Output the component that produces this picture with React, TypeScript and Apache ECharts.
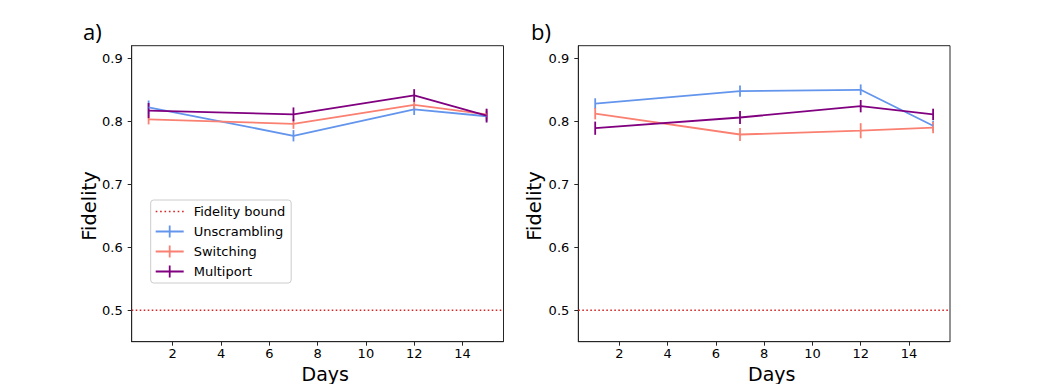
import React, { useEffect, useRef } from "react";
import * as echarts from "echarts";

const days = [1, 7, 12, 15];
const xTicks = [2, 4, 6, 8, 10, 12, 14];
const yTicks = [0.5, 0.6, 0.7, 0.8, 0.9];
const fidelityBound = 0.5;

const unscramblingA = [0.822, 0.777, 0.819, 0.808];
const unscramblingAErr = [0.011, 0.009, 0.009, 0.008];
const switchingA = [0.803, 0.796, 0.826, 0.811];
const switchingAErr = [0.008, 0.008, 0.007, 0.008];
const multiportA = [0.817, 0.811, 0.841, 0.809];
const multiportAErr = [0.012, 0.011, 0.010, 0.011];

const unscramblingB = [0.828, 0.848, 0.850, 0.793];
const unscramblingBErr = [0.0085, 0.009, 0.0085, 0.008];
const switchingB = [0.812, 0.779, 0.785, 0.790];
const switchingBErr = [0.009, 0.0105, 0.012, 0.009];
const multiportB = [0.789, 0.806, 0.824, 0.811];
const multiportBErr = [0.0105, 0.0105, 0.0098, 0.009];

const BLUE = "#6495ED";
const SALMON = "#FA8072";
const PURPLE = "#800080";
const RED = "#d62728";
const SPINE = "#262626";
const FONT = "DejaVu Sans";
const LW = 1.8;

const X_MIN = 0.3;
const X_MAX = 15.7;

const crossIcon = "path://M0,5.1h28v1.8h-28z M13.1,0h1.8v12h-1.8z";
const dotIcon =
  "path://M0,0h1.5v1.5h-1.5z M4,0h1.5v1.5h-1.5z M8,0h1.5v1.5h-1.5z M12,0h1.5v1.5h-1.5z M16,0h1.5v1.5h-1.5z M20,0h1.5v1.5h-1.5z M24,0h1.5v1.5h-1.5z";

function lineSeries(name: string, values: number[], color: string, idx: number) {
  return {
    type: "line",
    name,
    xAxisIndex: idx,
    yAxisIndex: idx,
    data: days.map((d, i) => [d, values[i]]),
    symbol: "none",
    showSymbol: false,
    color,
    itemStyle: { color, borderWidth: 0 },
    lineStyle: { color, width: LW },
    z: 3,
  };
}

function errSeries(name: string, values: number[], errs: number[], color: string, idx: number) {
  return {
    type: "custom",
    name: name + " error",
    xAxisIndex: idx,
    yAxisIndex: idx,
    data: days.map((d, i) => [d, values[i] - errs[i], values[i] + errs[i]]),
    encode: { x: 0, y: [1, 2] },
    z: 3,
    renderItem: (params: any, api: any) => {
      const p1 = api.coord([api.value(0), api.value(1)]);
      const p2 = api.coord([api.value(0), api.value(2)]);
      return {
        type: "line",
        shape: { x1: p1[0], y1: p1[1], x2: p2[0], y2: p2[1] },
        style: { stroke: color, lineWidth: LW },
      };
    },
  };
}

function boundSeries(idx: number) {
  return {
    type: "line",
    name: "Fidelity bound",
    xAxisIndex: idx,
    yAxisIndex: idx,
    data: [
      [X_MIN, fidelityBound],
      [X_MAX, fidelityBound],
    ],
    symbol: "none",
    showSymbol: false,
    color: RED,
    itemStyle: { color: RED, borderWidth: 0 },
    lineStyle: { color: RED, width: 1.6, type: [1.6, 2.4] },
    z: 2,
  };
}

function xAxis(idx: number) {
  return {
    type: "value",
    gridIndex: idx,
    min: X_MIN,
    max: X_MAX,
    axisLine: { show: true, onZero: false, lineStyle: { color: SPINE, width: 1 } },
    axisTick: { show: true, length: 4, customValues: xTicks, lineStyle: { color: SPINE, width: 1 } },
    axisLabel: {
      customValues: xTicks,
      margin: 5.5,
      fontFamily: FONT,
      fontSize: 13,
      lineHeight: 13,
      color: "#000",
      formatter: (v: number) => String(v),
    },
    splitLine: { show: false },
  };
}

function yAxis(idx: number) {
  return {
    type: "value",
    gridIndex: idx,
    min: 0.45,
    max: 0.92,
    axisLine: { show: true, lineStyle: { color: SPINE, width: 1 } },
    axisTick: { show: true, length: 4, customValues: yTicks, lineStyle: { color: SPINE, width: 1 } },
    axisLabel: {
      customValues: yTicks,
      margin: 9,
      fontFamily: FONT,
      fontSize: 13,
      color: "#000",
      formatter: (v: number) => v.toFixed(1),
    },
    splitLine: { show: false },
  };
}

function textEl(text: string, x: number, y: number, size: number, family: string, rotation = 0, align = "center", lineHeight?: number) {
  return {
    type: "text",
    x,
    y,
    rotation,
    silent: true,
    style: {
      text,
      fill: "#000",
      font: `${size}px "${family}"`,
      align,
      verticalAlign: "middle",
      ...(lineHeight ? { lineHeight } : {}),
    },
  };
}

export default function App() {
  const ref = useRef<HTMLDivElement>(null);

  useEffect(() => {
    if (!ref.current) return;
    const chart = echarts.init(ref.current, null, { renderer: "svg" });
    const option: any = {
      animation: false,
      backgroundColor: "#ffffff",
      grid: [
        { left: 131.7, top: 45.7, width: 371.8, height: 296, show: true, borderColor: SPINE, borderWidth: 1, backgroundColor: "transparent" },
        { left: 578.3, top: 45.7, width: 371.7, height: 296, show: true, borderColor: SPINE, borderWidth: 1, backgroundColor: "transparent" },
      ],
      xAxis: [xAxis(0), xAxis(1)],
      yAxis: [yAxis(0), yAxis(1)],
      legend: {
        show: true,
        orient: "vertical",
        left: 150.7,
        top: 200,
        itemWidth: 28,
        itemHeight: 12,
        itemGap: 7,
        padding: [5, 6, 5, 5],
        borderColor: "#cccccc",
        borderWidth: 1,
        borderRadius: 3,
        backgroundColor: "rgba(255,255,255,0.8)",
        itemStyle: { borderWidth: 0 },
        lineStyle: { width: 0 },
        textStyle: { fontFamily: FONT, fontSize: 13, color: "#000", lineHeight: 12, padding: [0, 0, 0, 5] },
        selectedMode: false,
        data: [
          { name: "Fidelity bound", icon: dotIcon, itemStyle: { color: RED, borderWidth: 0 } },
          { name: "Unscrambling", icon: crossIcon, itemStyle: { color: BLUE, borderWidth: 0 } },
          { name: "Switching", icon: crossIcon, itemStyle: { color: SALMON, borderWidth: 0 } },
          { name: "Multiport", icon: crossIcon, itemStyle: { color: PURPLE, borderWidth: 0 } },
        ],
      },
      graphic: [
        textEl("a)", 83, 31, 22, "Open Sans", 0, "left"),
        textEl("b)", 531, 31, 22, "Open Sans", 0, "left"),
        textEl("Fidelity", 89, 206, 19.5, FONT, Math.PI / 2),
        textEl("Fidelity", 534, 206, 19.5, FONT, Math.PI / 2),
        textEl("Days", 325.3, 374, 19, FONT, 0, "center", 15),
        textEl("Days", 771.7, 374, 19, FONT, 0, "center", 15),
      ],
      series: [
        boundSeries(0),
        lineSeries("Unscrambling", unscramblingA, BLUE, 0),
        errSeries("Unscrambling", unscramblingA, unscramblingAErr, BLUE, 0),
        lineSeries("Switching", switchingA, SALMON, 0),
        errSeries("Switching", switchingA, switchingAErr, SALMON, 0),
        lineSeries("Multiport", multiportA, PURPLE, 0),
        errSeries("Multiport", multiportA, multiportAErr, PURPLE, 0),
        boundSeries(1),
        lineSeries("Unscrambling", unscramblingB, BLUE, 1),
        errSeries("Unscrambling", unscramblingB, unscramblingBErr, BLUE, 1),
        lineSeries("Switching", switchingB, SALMON, 1),
        errSeries("Switching", switchingB, switchingBErr, SALMON, 1),
        lineSeries("Multiport", multiportB, PURPLE, 1),
        errSeries("Multiport", multiportB, multiportBErr, PURPLE, 1),
      ],
    };
    chart.setOption(option);
    return () => chart.dispose();
  }, []);

  return (
    <div
      ref={ref}
      style={{ position: "fixed", left: 0, top: 0, width: 1056, height: 384, background: "#fff" }}
    />
  );
}
